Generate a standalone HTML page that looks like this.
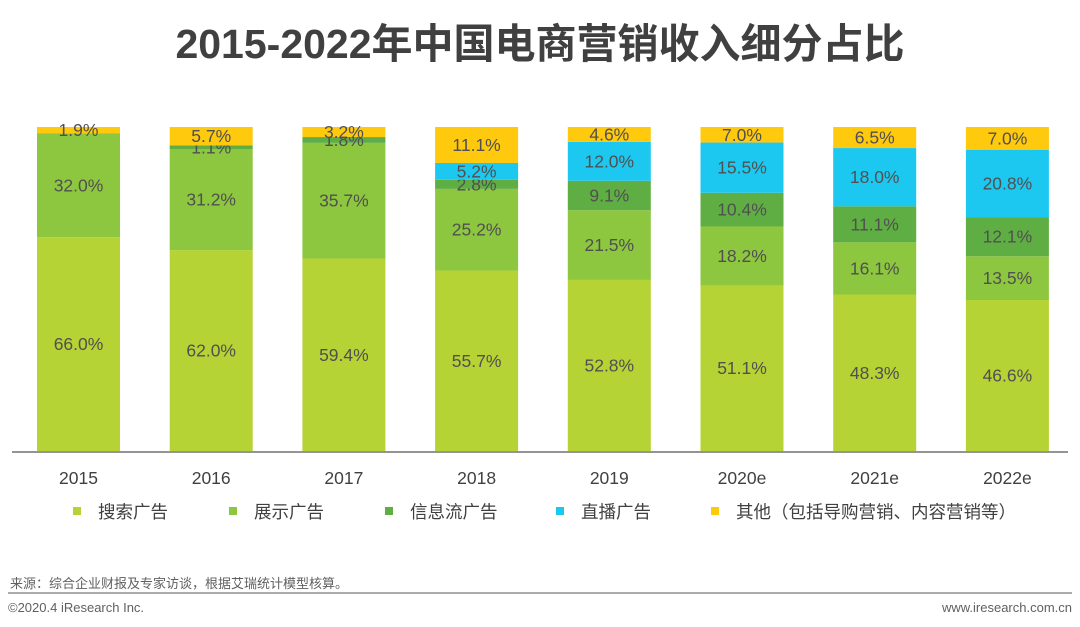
<!DOCTYPE html>
<html><head><meta charset="utf-8">
<style>
html,body{margin:0;padding:0;background:#fff;}
body{width:1080px;height:627px;overflow:hidden;position:relative;font-family:"Liberation Sans","Noto Sans CJK SC",sans-serif;}
#title{position:absolute;left:0;width:1080px;top:10px;text-align:center;font-size:41px;font-weight:bold;color:#404040;}
</style></head><body>
<div id="title">2015-2022年中国电商营销收入细分占比</div>
<svg id="chart" width="1080" height="627" style="position:absolute;left:0;top:0"></svg>
<script>
const categories=["2015","2016","2017","2018","2019","2020e","2021e","2022e"];
const searchAds=[66.0,62.0,59.4,55.7,52.8,51.1,48.3,46.6];
const displayAds=[32.0,31.2,35.7,25.2,21.5,18.2,16.1,13.5];
const feedAds=[0,1.1,1.8,2.8,9.1,10.4,11.1,12.1];
const liveAds=[0,0,0,5.2,12.0,15.5,18.0,20.8];
const otherAds=[1.9,5.7,3.2,11.1,4.6,7.0,6.5,7.0];
const seriesNames=["搜索广告","展示广告","信息流广告","直播广告","其他（包括导购营销、内容营销等）"];
const series=[searchAds,displayAds,feedAds,liveAds,otherAds];
const colors=["#b5d334","#8dc63f","#5fae43","#1cc8f0","#ffc90e"];
const keys=["search","display","feed","live","other"];
const NS="http://www.w3.org/2000/svg";
const svg=document.getElementById('chart');
const y0=451,y1=127;
const yScale=v=>y0-(v/100)*(y0-y1);
const xLeft=i=>37+i*132.7;
const bw=83;
function mk(t,a){const e=document.createElementNS(NS,t);for(const k in a)e.setAttribute(k,a[k]);svg.appendChild(e);return e;}
categories.forEach((c,i)=>{
  let cum=0;
  series.forEach((arr,s)=>{
    const v=arr[i];if(v<=0)return;
    let top=cum+v;if(s===series.length-1)top=Math.max(top,100);
    const yt=yScale(Math.min(top,100)),yb=yScale(cum);
    const r=mk('rect',{x:xLeft(i),y:yt,width:bw,height:Math.max(yb-yt,0),fill:colors[s]});
    
    
    const t=mk('text',{x:xLeft(i)+bw/2,y:(yt+yb)/2+6,'text-anchor':'middle','font-size':'17.5',fill:'#505050'});
    t.textContent=v.toFixed(1)+'%';
    
    
    cum+=v;
  });
  const xl=mk('text',{x:xLeft(i)+bw/2,y:484,'text-anchor':'middle','font-size':'17.5',fill:'#404040'});
  xl.textContent=c;
  
  
});
const ax=mk('line',{x1:12,y1:452,x2:1068,y2:452,stroke:'#707070','stroke-width':1.5});


const legX=[73,229,385,556,711];
seriesNames.forEach((n,s)=>{
  const r=mk('rect',{x:legX[s],y:507,width:8,height:8,fill:colors[s]});
  
  
  const t=mk('text',{x:legX[s]+25,y:518,'font-size':'17.5',fill:'#404040'});
  t.textContent=n;
  
  
});
const src=mk('text',{x:10,y:588,'font-size':'13',fill:'#606060'});
src.textContent='来源：综合企业财报及专家访谈，根据艾瑞统计模型核算。';


const fl=mk('line',{x1:8,y1:593,x2:1072,y2:593,stroke:'#909090','stroke-width':1.5});


const cp=mk('text',{x:8,y:612,'font-size':'13',fill:'#606060'});
cp.textContent='©2020.4 iResearch Inc.';


const url=mk('text',{x:1072,y:612,'font-size':'13',fill:'#606060','text-anchor':'end'});
url.textContent='www.iresearch.com.cn';


</script>
</body></html>
